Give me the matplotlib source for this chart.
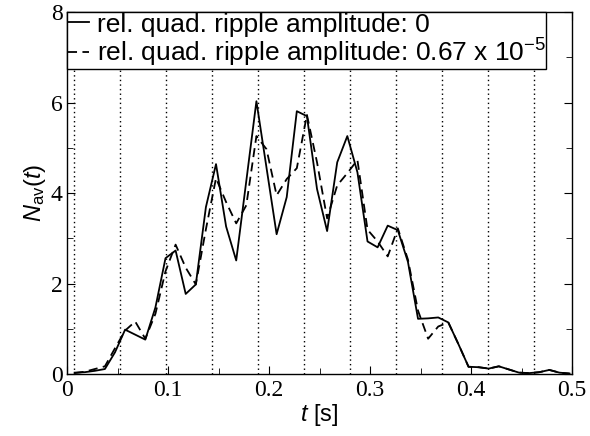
import matplotlib
matplotlib.use("Agg")
import matplotlib.pyplot as plt
import numpy as np
from matplotlib.ticker import MultipleLocator

plt.rcParams['font.family'] = 'Liberation Serif'
plt.rcParams['mathtext.fontset'] = 'custom'
plt.rcParams['mathtext.rm'] = 'Liberation Sans'
plt.rcParams['mathtext.it'] = 'Liberation Sans:italic'
plt.rcParams['mathtext.sf'] = 'Liberation Sans'

# time grid (s)
t = [0.0075 + 0.01 * k for k in range(50)]

# rel. quad. ripple amplitude 0
n_zero = [0.03, 0.04, 0.07, 0.11, 0.48, 0.98, 0.87, 0.76, 1.47, 2.56,
          2.73, 1.77, 1.98, 3.69, 4.64, 3.26, 2.51, 4.27, 6.03, 4.56,
          3.09, 3.91, 5.81, 5.70, 4.09, 3.16, 4.68, 5.26, 4.46, 2.93,
          2.80, 3.28, 3.18, 2.48, 1.22, 1.23, 1.25, 1.14, 0.66, 0.16,
          0.15, 0.12, 0.17, 0.10, 0.03, 0.02, 0.04, 0.09, 0.03, 0.01]

# rel. quad. ripple amplitude 0.67e-5
n_ripple = [0.02, 0.05, 0.11, 0.17, 0.57, 0.96, 1.16, 0.78, 1.33, 2.27,
            2.86, 2.35, 1.98, 3.20, 4.33, 3.80, 3.33, 3.73, 5.26, 4.97,
            3.95, 4.31, 4.55, 5.73, 4.68, 3.44, 4.17, 4.44, 4.73, 3.19,
            2.93, 2.60, 3.22, 2.53, 1.40, 0.78, 1.05, 1.14, 0.66, 0.16,
            0.15, 0.12, 0.17, 0.10, 0.03, 0.02, 0.04, 0.09, 0.03, 0.01]

# dotted marker lines
t_marks = [0.0065, 0.052, 0.098, 0.1435, 0.189, 0.2345, 0.28, 0.3255,
           0.371, 0.4165, 0.462]

fig = plt.figure(figsize=(5.9, 4.36), dpi=100)
ax = fig.add_axes([0.1136, 0.1422, 0.856, 0.83])

for tm in t_marks:
    ax.axvline(tm, color='black', lw=1.0, linestyle=(0, (1, 2.3)))

ax.plot(t, n_zero, color='black', lw=1.3,
        label='rel. quad. ripple amplitude: 0')
ax.plot(t, n_ripple, color='black', lw=1.3, linestyle=(0, (5, 3)),
        label=r'rel. quad. ripple amplitude: 0.67 x 10$^{-5}$')

ax.set_xlim(0, 0.5)
ax.set_ylim(0, 8)
ax.set_xticks([0, 0.1, 0.2, 0.3, 0.4, 0.5])
ax.set_xticklabels(['0', '0.1', '0.2', '0.3', '0.4', '0.5'])
ax.xaxis.set_minor_locator(MultipleLocator(0.05))
ax.yaxis.set_major_locator(MultipleLocator(2))
ax.yaxis.set_minor_locator(MultipleLocator(1))
ax.tick_params(which='both', direction='in', top=True, right=True,
               labelsize=17)
ax.tick_params(axis='x', pad=4)
ax.tick_params(axis='y', pad=3)
ax.tick_params(which='major', length=6)
ax.tick_params(which='minor', length=4)
for sp in ax.spines.values():
    sp.set_linewidth(1.0)

ax.set_xlabel(r'$t$ [s]', fontsize=17, labelpad=1,
              family='Liberation Sans')
ax.set_ylabel(r'$N_{\mathrm{av}}(t)$', fontsize=17, labelpad=2,
              family='Liberation Sans')

leg = ax.legend(loc='upper left', bbox_to_anchor=(0, 1.0),
                frameon=True, fancybox=False, edgecolor='black',
                framealpha=1, borderaxespad=0, handlelength=0.8,
                handletextpad=0.3, borderpad=0.02, labelspacing=0.0,
                prop={'family': 'Liberation Sans', 'size': 19})
leg.get_frame().set_linewidth(1.0)

fig.savefig('out.png', dpi=100)
